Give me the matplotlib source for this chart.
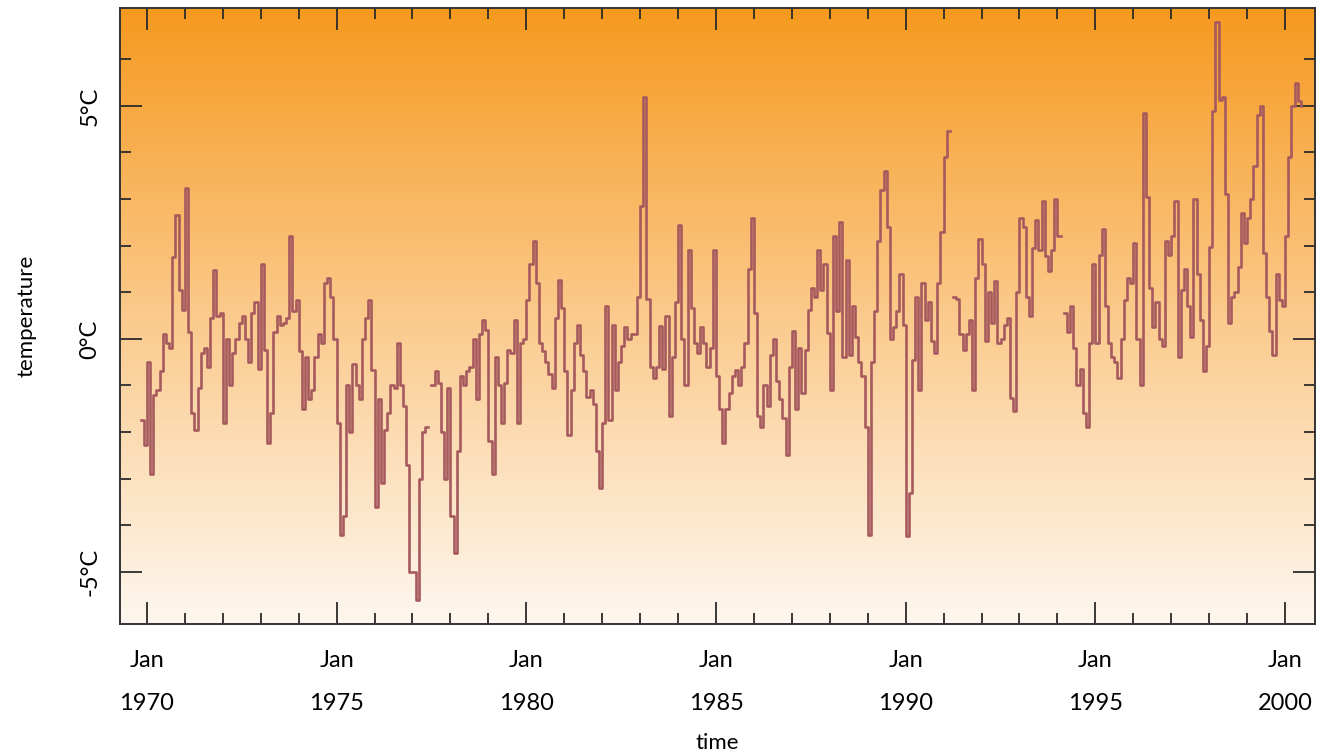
import matplotlib
matplotlib.use("Agg")
import matplotlib.pyplot as plt
import numpy as np
import pandas as pd
from matplotlib.colors import LinearSegmentedColormap

nan = np.nan

# monthly temperature values (deg C), series starts Nov 1969
temps_1969 = [-1.74, -2.28]
temps_1970s = [
    -0.5, -2.9, -1.2, -1.1, -0.7, 0.1, -0.1, -0.2, 1.76, 2.66, 1.05, 0.62,
    3.24, 0.15, -1.6, -1.95, -1.05, -0.3, -0.2, -0.6, 0.45, 1.48, 0.5, 0.55,
    -1.8, 0.0, -1.0, -0.3, 0.0, 0.33, 0.5, 0.0, -0.5, 0.55, 0.8, -0.65,
    1.6, -0.24, -2.24, -1.6, 0.15, 0.48, 0.3, 0.35, 0.45, 2.2, 0.6, 0.84,
    -0.27, -1.5, -0.4, -1.3, -1.1, -0.4, 0.1, -0.1, 1.2, 1.3, 0.9, 0.0,
    -1.8, -4.2, -3.8, -1.0, -2.0, -0.55, -1.0, -1.3, 0.0, 0.44, 0.84, -0.67,
    -3.6, -1.3, -3.1, -1.95, -1.6, -1.0, -1.05, -0.1, -1.0, -1.45, -2.7, -5.0,
    -5.0, -5.6, -3.0, -2.0, -1.9, nan, -1.0, -0.7, -0.95, -2.0, -3.0, -1.05,
    -3.8, -4.6, -2.4, -0.8, -1.0, -0.7, -0.6, 0.0, -1.3, 0.1, 0.4, 0.2,
    -2.2, -2.9, -0.4, -1.0, -1.8, -0.95, -0.25, -0.3, 0.4, -1.8, -0.1, 0.0,
]
temps_1980s = [
    0.84, 1.6, 2.1, 1.2, -0.1, -0.27, -0.5, -0.75, -1.05, 0.44, 1.27, 0.66,
    -0.7, -2.06, -1.1, -0.1, 0.3, -0.35, -0.7, -1.24, -1.1, -1.4, -2.4, -3.2,
    -1.8, 0.7, -1.75, 0.3, -1.1, -0.5, -0.15, 0.25, 0.0, 0.1, 0.1, 0.9,
    2.84, 5.2, 0.85, -0.6, -0.85, -0.6, 0.28, -0.65, 0.5, -1.65, -0.4, 0.8,
    2.45, 0.0, -1.0, 1.9, 0.66, -0.1, -0.3, 0.26, -0.1, -0.6, -0.2, 1.9,
    -0.8, -1.5, -2.24, -1.5, -1.16, -0.8, -0.66, -1.0, -0.6, -0.1, 1.5, 2.6,
    0.55, -1.66, -1.9, -1.0, -1.45, -0.34, 0.0, -0.9, -1.3, -1.7, -2.5, -0.6,
    0.16, -1.5, -0.2, -1.16, -0.24, 0.62, 1.09, 0.9, 1.9, 1.05, 1.6, 0.12,
    -1.1, 2.2, 0.6, 2.5, -0.4, 1.7, -0.35, 0.7, 0.05, -0.5, -0.8, -1.9,
    -4.2, -0.5, 0.6, 2.1, 3.2, 3.6, 2.4, 0.0, 0.25, 0.6, 1.4, 0.3,
]
temps_1990s = [
    -4.24, -3.3, -0.45, 0.9, -1.1, 1.2, 0.4, 0.8, -0.05, -0.3, 1.2, 2.3,
    3.9, 4.45, nan, 0.9, 0.85, 0.1, -0.25, 0.1, 0.4, -1.1, 1.3, 2.15,
    1.6, -0.05, 1.0, 0.35, 1.25, -0.1, 0.0, 0.3, 0.45, -1.27, -1.55, 1.0,
    2.6, 2.4, 0.9, 0.5, 1.95, 2.55, 1.9, 2.95, 1.77, 1.45, 1.9, 3.0,
    2.2, nan, 0.55, 0.15, 0.7, -0.2, -1.0, -0.65, -1.6, -1.9, -0.1, 1.6,
    -0.1, 1.8, 2.35, 0.7, -0.1, -0.4, -0.5, -0.85, 0.0, 0.84, 1.3, 1.2,
    2.05, 0.0, -1.0, 4.84, 3.05, 1.1, 0.25, 0.8, 0.0, -0.15, 2.1, 1.8,
    2.2, 2.95, -0.4, 1.05, 1.5, 0.7, 0.05, 3.0, 1.4, 0.4, -0.7, -0.16,
    1.98, 4.9, 6.8, 5.13, 5.2, 3.1, 0.33, 0.9, 1.0, 1.55, 2.7, 2.05,
    2.6, 3.0, 3.7, 4.8, 5.0, 1.84, 0.9, 0.16, -0.34, 1.4, 0.84, 0.7,
]
temps_2000 = [2.2, 3.9, 5.0, 5.5, 5.1, 5.0]

year_ticks = list(range(1970, 2001, 5))
year_labels = ["Jan\n%d" % y for y in year_ticks]
temp_ticks = [-5, 0, 5]
temp_labels = ["-5°C", "0°C", "5°C"]

temps = np.array(temps_1969 + temps_1970s + temps_1980s + temps_1990s + temps_2000)
dates = pd.date_range("1969-11-01", periods=len(temps), freq="MS")
t = dates.year + (dates.month - 1) / 12.0

plt.rcParams['font.family'] = ['Lato', 'DejaVu Sans']

fig = plt.figure(figsize=(13.2, 7.52), dpi=100)
ax = fig.add_axes([120 / 1320, 1 - 624 / 752, 1195 / 1320, 616 / 752])

xlim = (1969.29, 2000.79)
ylim = (-6.12, 7.10)

# orange gradient background
cmap = LinearSegmentedColormap.from_list(
    "bg", [(0.0, "#fef7ef"), (0.5, "#fbca8c"), (1.0, "#f6991f")])
grad = np.linspace(0, 1, 256).reshape(-1, 1)
ax.imshow(grad, extent=[xlim[0], xlim[1], ylim[0], ylim[1]], origin="lower",
          aspect="auto", cmap=cmap, zorder=0, interpolation="bicubic")

ax.plot(t, temps, drawstyle="steps-post", color="#a65a5e", lw=1.9, zorder=2)

ax.set_xlim(*xlim)
ax.set_ylim(*ylim)

ax.set_xticks(year_ticks)
ax.set_xticklabels(year_labels, fontsize=17, linespacing=2.25)
ax.set_xticks(range(1970, 2001), minor=True)
ax.set_yticks(temp_ticks)
ax.set_yticklabels(temp_labels, fontsize=17, rotation=90, va="center")
ax.set_yticks([-4, -3, -2, -1, 1, 2, 3, 4, 6], minor=True)

ax.tick_params(which="both", direction="in", top=True, right=True,
               width=1.3, color="#2b2b2b")
ax.tick_params(which="major", length=16)
ax.tick_params(which="minor", length=8)
ax.tick_params(axis="x", which="major", pad=19)
ax.tick_params(axis="y", which="major", pad=14)

for s in ax.spines.values():
    s.set_color("#333333")
    s.set_linewidth(1.4)

ax.set_xlabel("time", fontsize=16, labelpad=14)
ax.set_ylabel("temperature", fontsize=16, labelpad=31)

fig.savefig("out.png", dpi=100)
